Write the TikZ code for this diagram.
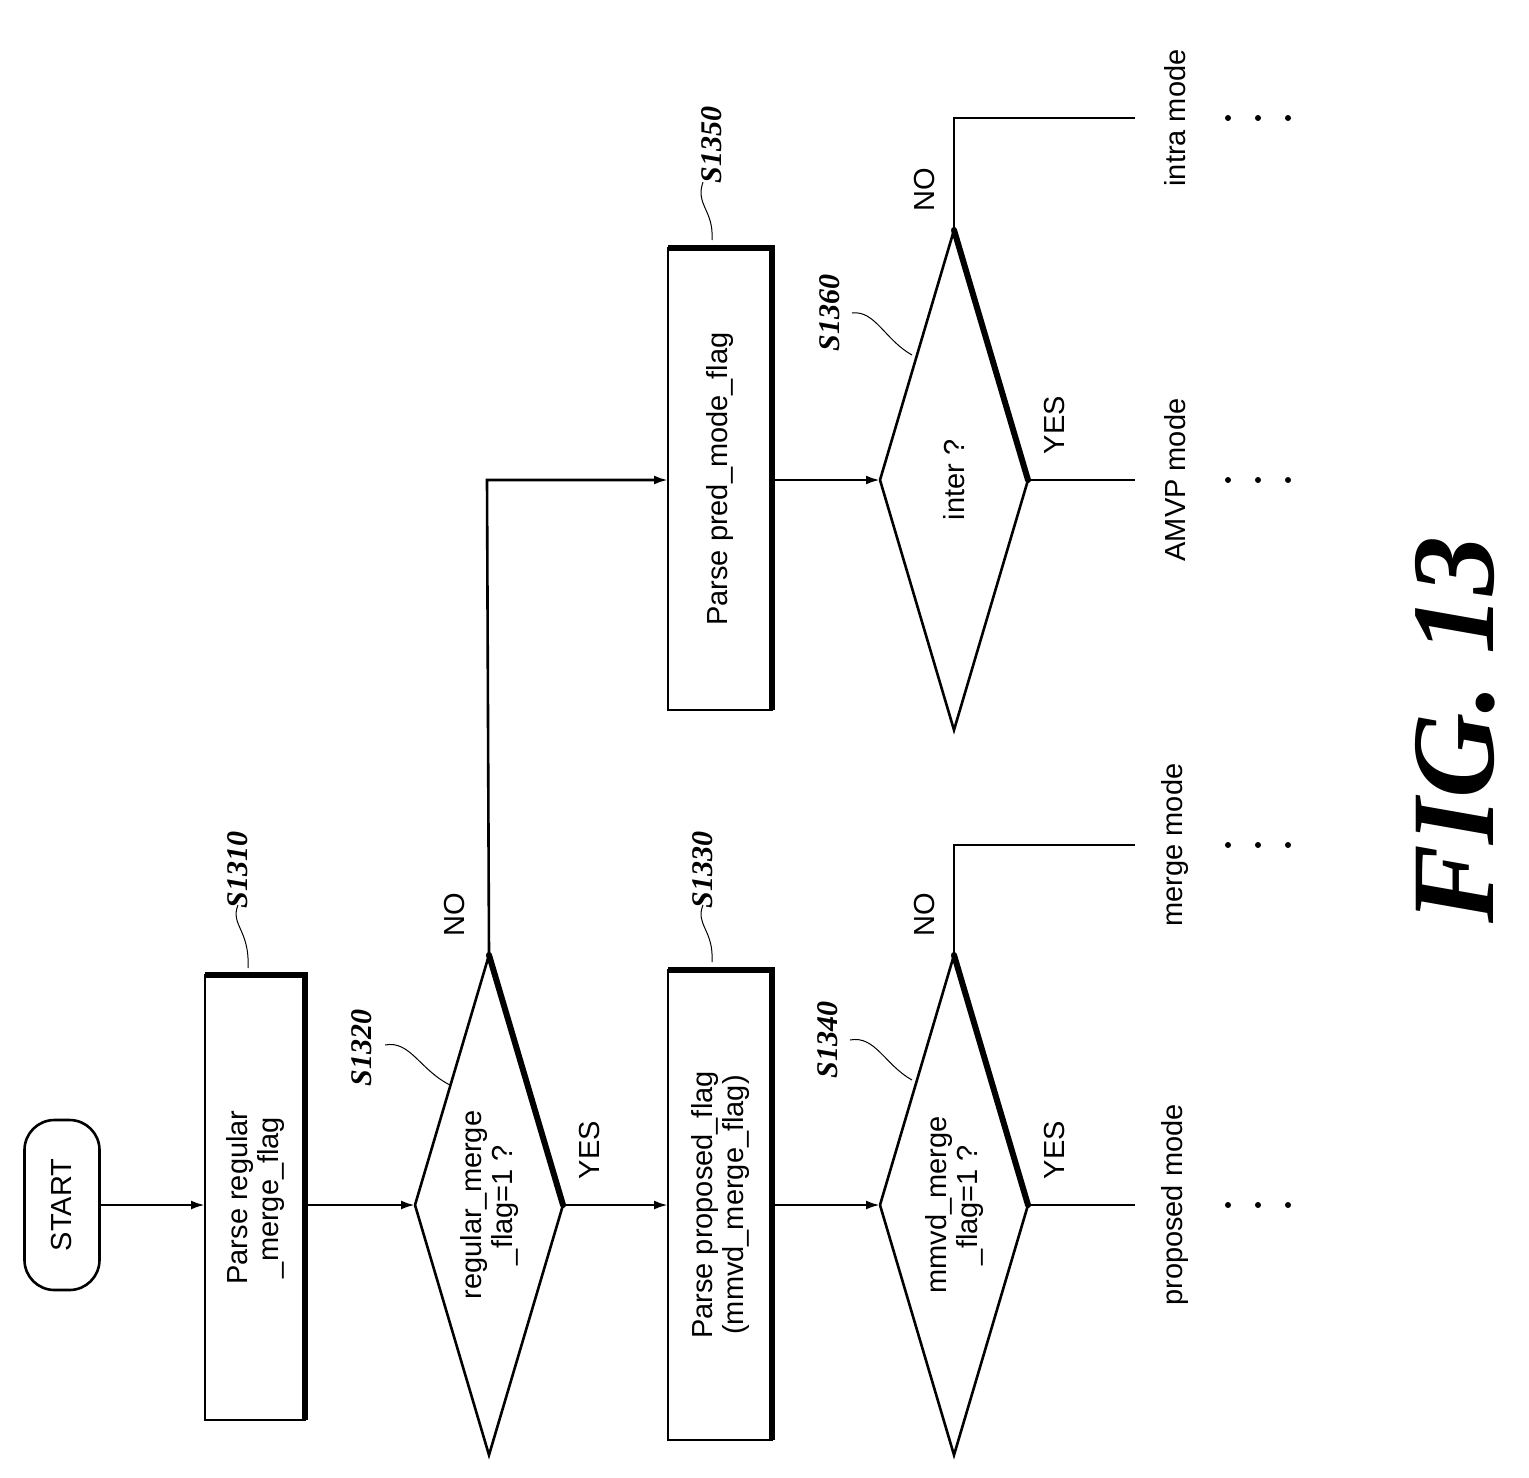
\documentclass[tikz,border=0pt]{standalone}
\usetikzlibrary{arrows.meta}
\usepackage{fontspec}
\setmainfont{Liberation Sans}
\newfontfamily\lblfont{Liberation Serif}
\begin{document}
\begin{tikzpicture}[x=1pt,y=-1pt,line width=2.6pt,
 txt/.style={rotate=90,font=\fontsize{29}{31}\selectfont,align=center,inner sep=0},
 lbl/.style={rotate=90,font=\lblfont\bfseries\itshape\fontsize{30}{32}\selectfont,inner sep=0},
 arr/.style={-{Latex[length=14pt,width=9pt]}},
 thick edge/.style={line width=6pt}]
\useasboundingbox (0,0) rectangle (1529,1478);
% START
\node[draw,rounded corners=30pt,minimum width=75pt,minimum height=170pt] (start) at (62,1205) {};
\node[txt] at (start) {START};
% boxes
\newcommand{\mybox}[5]{% name x1 y1 x2 y2
 \draw (#2,#3) rectangle (#4,#5);
 \draw[thick edge] (#2,#3) -- (#4,#3) -- (#4,#5);
 \coordinate (#1) at ({(#2+#4)/2},{(#3+#5)/2});}
\mybox{b1}{205}{975}{305}{1420}
\node[txt] at (b1) {Parse regular\\\_merge\_flag};
\mybox{b3}{668}{970}{772}{1440}
\node[txt] at (b3) {Parse proposed\_flag\\(mmvd\_merge\_flag)};
\mybox{b5}{668}{248}{772}{710}
\node[txt] at (b5) {Parse pred\_mode\_flag};
% diamonds
\newcommand{\dia}[4]{% name l r cy
 \coordinate (#1l) at (#2,#4); \coordinate (#1r) at (#3,#4);
 \coordinate (#1t) at ({(#2+#3)/2},{#4-250}); \coordinate (#1b) at ({(#2+#3)/2},{#4+250});
 \coordinate (#1) at ({(#2+#3)/2},#4);
 \draw (#1l) -- (#1t) (#1r) -- (#1b) -- (#1l);
 \draw[thick edge,line cap=round] (#1t) -- (#1r);}
\dia{d2}{415}{563}{1205}
\node[txt] at (d2) {regular\_merge\\\_flag=1 ?};
\dia{d4}{880}{1028}{1205}
\node[txt] at (d4) {mmvd\_merge\\\_flag=1 ?};
\dia{d6}{880}{1028}{480}
\node[txt] at (d6) {inter ?};
% connectors
\draw[arr] (start.east) -- (205,1205);
\draw[arr] (305,1205) -- (d2l);
\draw[arr] (d2r) -- (668,1205);
\draw[arr] (d2t) -- (487,480) -- (668,480);
\draw[arr] (772,1205) -- (d4l);
\draw[arr] (772,480) -- (d6l);
\coordinate (e1) at (1135,1205); \coordinate (e2) at (1135,845);
\coordinate (e3) at (1135,480); \coordinate (e4) at (1135,118);
\draw (d4r) -- (e1);
\draw (d4t) -- (954,845) -- (e2);
\draw (d6r) -- (e3);
\draw (d6t) -- (954,118) -- (e4);
% yes/no
\node[txt] at (590,1150) {YES};
\node[txt] at (455,915) {NO};
\node[txt] at (1055,1150) {YES};
\node[txt] at (925,915) {NO};
\node[txt] at (1055,425) {YES};
\node[txt] at (925,190) {NO};
% outcomes
\node[txt] at (1175,1205) {proposed mode};
\node[txt] at (1175,845) {merge mode};
\node[txt] at (1175,480) {AMVP mode};
\node[txt] at (1175,118) {intra mode};
\foreach \y in {1205,845,480,118}
 \foreach \x in {1228,1258,1288} \fill (\x,\y) circle (3pt);
% step labels
\node[lbl] (l1) at (238,870) {S1310};
\draw[line width=1pt] (248,968) .. controls (250,930) and (230,925) .. (238,905);
\node[lbl] (l2) at (362,1048) {S1320};
\draw[line width=1pt] (450,1085) .. controls (420,1070) and (410,1040) .. (385,1045);
\node[lbl] (l3) at (703,870) {S1330};
\draw[line width=1pt] (712,962) .. controls (714,930) and (695,925) .. (703,905);
\node[lbl] (l4) at (828,1040) {S1340};
\draw[line width=1pt] (912,1080) .. controls (885,1065) and (875,1035) .. (850,1040);
\node[lbl] (l5) at (712,145) {S1350};
\draw[line width=1pt] (712,240) .. controls (714,210) and (695,205) .. (703,182);
\node[lbl] (l6) at (830,313) {S1360};
\draw[line width=1pt] (912,355) .. controls (885,340) and (875,310) .. (852,313);
% title
\node[rotate=90,font=\lblfont\bfseries\itshape\fontsize{118}{120}\selectfont,inner sep=0] at (1455,730) {FIG. 13};
\end{tikzpicture}
\end{document}
